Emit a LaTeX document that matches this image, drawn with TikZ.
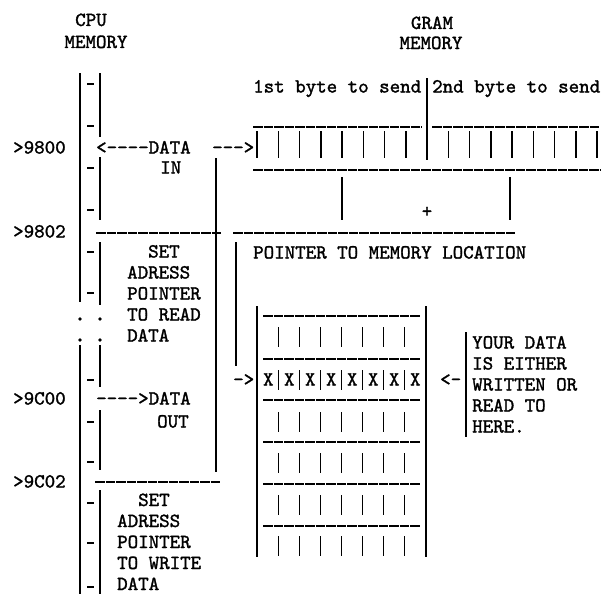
\documentclass[tikz,border=0pt]{standalone}
\usepackage{fontspec}
\newfontfamily\typewr{lmmono10-regular.otf}[Ligatures=TeXOff,FakeBold=1.5]
\tikzset{
  tw/.style={font=\typewr\fontsize{20}{21}\selectfont, inner sep=0pt, anchor=base west},
  twc/.style={tw, anchor=base},
  vline/.style={line width=1.5pt},
  under/.style={line width=1.3pt, dash pattern=on 9.5pt off 1pt},
}
\begin{document}
\begin{tikzpicture}[x=1pt,y=-1pt]
  \useasboundingbox (0,0) rectangle (602,594);
  % headings
  \node[twc] (cpuhd) at (91,26) {CPU};
  \node[twc] (cpumem) at (96,48) {MEMORY};
  \node[twc] (gramhd) at (432,29) {GRAM};
  \node[twc] (grammem) at (431,49) {MEMORY};
  % addresses
  \node[tw] (a9800) at (13,153.5) {>9800};
  \node[tw] (a9802) at (13,237.5) {>9802};
  \node[tw] (a9c00) at (13,404.5) {>9C00};
  \node[tw] (a9c02) at (13,487.5) {>9C02};
  % cpu memory column
  \draw[vline] (80,73) -- (80,302) (80,345) -- (80,594);
  \draw[vline] (100,73) -- (100,137) (100,157) -- (100,220) (100,242) -- (100,305)
               (100,345) -- (100,387) (100,410) -- (100,470) (100,490) -- (100,594);
  \foreach \y in {84,126,168,210,252,293,380,422,462,503,543,587}
    \draw[vline] (87,\y) -- (94,\y);
  \foreach \y in {319,340}
    \fill (80,\y) circle (1.8pt) (100,\y) circle (1.8pt);
  % data in / data out
  \node[tw] (din) at (96,153.5) {<----DATA};
  \node[tw] (inlbl) at (160,173.5) {IN};
  \node[tw] (toram) at (212,153.5) {--->};
  \node[tw] (dout) at (96,404.5) {---->DATA};
  \node[tw] (outlbl) at (157,427.5) {OUT};
  \draw[vline] (216,158) -- (216,472);
  \draw[vline] (236,242) -- (236,366);
  \draw[under] (96,233) -- (221,233) (233,233) -- (515,233);
  \draw[under] (95,482) -- (221,482);
  % set adress pointer
  \foreach \t/\x [count=\i] in {SET/148, ADRESS/127, POINTER/127, TO READ/127, DATA/127}
    \node[tw] (rd\i) at (\x,236.5+21*\i) {\t};
  \foreach \t/\x [count=\i] in {SET/138, ADRESS/117, POINTER/117, TO WRITE/117, DATA/117}
    \node[tw] (wr\i) at (\x,485+21*\i) {\t};
  % bytes to send
  \node[tw] (byte1) at (253,92.5) {1st byte to send};
  \node[tw] (byte2) at (432,92.5) {2nd byte to send};
  \draw[vline] (427,78) -- (427,160);
  \draw[under] (253,127) -- (422,127) (432,127) -- (600,127);
  \draw[under] (253,170) -- (600,170);
  \foreach \k in {0,...,16}
    \draw[vline] (257+21.25*\k,131) -- (257+21.25*\k,158);
  \draw[vline] (342,177) -- (342,220) (510,177) -- (510,220);
  \node[tw,anchor=center] (plus) at (427,212) {+};
  \node[tw] (ptr) at (253,258.5) {POINTER TO MEMORY LOCATION};
  % gram memory
  \draw[vline] (257,306) -- (257,557) (426,306) -- (426,557);
  \foreach \y in {316,359,400,442,484,526}
    \draw[under] (263,\y) -- (420,\y);
  \foreach \y in {337,380,422,463,505,546}
    \foreach \k in {0,...,6}
      \draw[vline] (278.5+21*\k,\y-10) -- (278.5+21*\k,\y+10);
  \foreach \k in {0,...,7}
    \node[twc] (xb\k) at (268.25+21*\k,385.5) {X};
  \node[tw] (ptin) at (233,385.5) {->};
  \node[tw] (ptout) at (440,385.5) {<-};
  \draw[vline] (466,332) -- (466,437);
  \foreach \t [count=\i] in {YOUR DATA, IS EITHER, WRITTEN OR, READ TO, HERE.}
    \node[tw] (note\i) at (472,327.5+21*\i) {\t};
\end{tikzpicture}
\end{document}
